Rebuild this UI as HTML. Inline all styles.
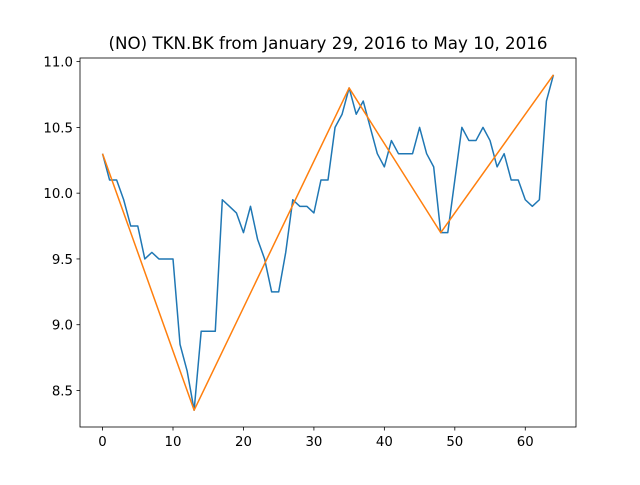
<!DOCTYPE html>
<html><head><meta charset="utf-8"><style>
body{margin:0;background:#fff;}
svg{font-family:"DejaVu Sans","Liberation Sans",sans-serif;}
</style></head><body>
<svg id="chart" width="640" height="480">
<rect width="640" height="480" fill="#fff"/>
<text x="328" y="49" text-anchor="middle" font-size="16.7">(NO) TKN.BK from January 29, 2016 to May 10, 2016</text>
<g id="axes"></g>
</svg>
<script>
const closePrices=[10.3,10.1,10.1,9.95,9.75,9.75,9.5,9.55,9.5,9.5,9.5,8.85,8.65,8.35,8.95,8.95,8.95,9.95,9.9,9.85,9.7,9.9,9.65,9.5,9.25,9.25,9.55,9.95,9.9,9.9,9.85,10.1,10.1,10.5,10.6,10.8,10.6,10.7,10.5,10.3,10.2,10.4,10.3,10.3,10.3,10.5,10.3,10.2,9.7,9.7,10.1,10.5,10.4,10.4,10.5,10.4,10.2,10.3,10.1,10.1,9.95,9.9,9.95,10.7,10.9];
const trendX=[0,13,35,48,64];
const trendY=[10.3,8.35,10.8,9.7,10.9];
const xTicks=[0,10,20,30,40,50,60];
const yTicks=[8.5,9.0,9.5,10.0,10.5,11.0];
const L=80,R=576,T=58,B=427;
const xmin=-3.2,xmax=67.2,ymin=8.2225,ymax=11.0275;
const sx=v=>L+(v-xmin)/(xmax-xmin)*(R-L);
const sy=v=>B-(v-ymin)/(ymax-ymin)*(B-T);
const NS="http://www.w3.org/2000/svg";
const g=document.getElementById('axes');
function mk(t,a){const e=document.createElementNS(NS,t);for(const k in a)e.setAttribute(k,a[k]);g.appendChild(e);return e;}
let p1=closePrices.map((v,i)=>(i?'L':'M')+sx(i)+','+sy(v)).join('');
const blue=mk('path',{d:p1,fill:'none',stroke:'#1f77b4','stroke-width':1.5,'stroke-linejoin':'round'});


let p2=trendX.map((x,i)=>(i?'L':'M')+sx(x)+','+sy(trendY[i])).join('');
const orange=mk('path',{d:p2,fill:'none',stroke:'#ff7f0e','stroke-width':1.5,'stroke-linejoin':'round'});


const frame=mk('rect',{x:L,y:T,width:R-L,height:B-T,fill:'none',stroke:'#000','stroke-width':0.8});


xTicks.forEach(t=>{const x=sx(t);
mk('line',{x1:x,x2:x,y1:B,y2:B+3.5,stroke:'#000','stroke-width':0.8});
const tx=mk('text',{x:x,y:B+19,'text-anchor':'middle','font-size':13.3});tx.textContent=t;

});
yTicks.forEach(t=>{const y=sy(t);
mk('line',{x1:L-3.5,x2:L,y1:y,y2:y,stroke:'#000','stroke-width':0.8});
const tx=mk('text',{x:L-7,y:y+5,'text-anchor':'end','font-size':13.3});tx.textContent=t.toFixed(1);

});
</script>
</body></html>
